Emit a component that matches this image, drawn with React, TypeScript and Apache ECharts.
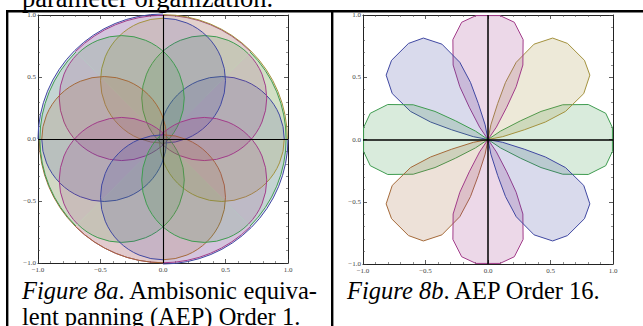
import React, { useEffect, useRef } from 'react';
import * as echarts from 'echarts';

// ---- axis ticks (both panels) ----
const tickValues = [-1, -0.5, 0, 0.5, 1];
const tickLabels = ['\u22121.0', '\u22120.5', '0.0', '0.5', '1.0'];

// ---- Figure 8a (AEP order 1) ----
// eight circles through (nearly) the origin, each drawn as two coloured halves
const innerCenterX = [0.47, 0.33, 0, -0.33, -0.47, -0.33, 0, 0.33];
const innerCenterY = [0, 0.33, 0.47, 0.33, 0, -0.33, -0.47, -0.33];
const innerRadius = [0.5, 0.5, 0.5, 0.5, 0.5, 0.5, 0.5, 0.5];
const innerDirection = [0, 45, 90, 135, 180, 225, 270, 315];
const innerCcwColor = ['blue', 'green', 'ochre', 'magenta', 'blue', 'green', 'brown', 'magenta'];
const innerCwColor = ['ochre', 'magenta', 'blue', 'green', 'brown', 'magenta', 'blue', 'green'];

// outer (near unit) arcs around the origin
const outerCenter = [0, 0];
const outerFrom = [90, 270, 45, 225, 0, 180, -45, 135];
const outerTo = [180, 360, 135, 315, 90, 270, 45, 225];
const outerRadius = [1.0, 1.0, 0.99, 0.99, 0.995, 0.99, 0.985, 0.985];
const outerColor = ['blue', 'blue', 'magenta', 'magenta', 'ochre', 'brown', 'green', 'green'];

// ---- Figure 8b (AEP order 16) ----
const petalOrigin = [0, 0];
const petalDirection = [0, 45, 90, 135, 180, 225, 270, 315];
const petalColor = ['green', 'ochre', 'magenta', 'blue', 'green', 'brown', 'magenta', 'blue'];
const petalOffset = [-40, -34, -30, -28, -25, -19.3, -12.6, -5.5, 5.5, 12.6, 19.3, 25, 28, 30, 34, 40];
const petalRadius = [0, 0.12, 0.3, 0.48, 0.66, 0.85, 0.965, 1.0, 1.0, 0.965, 0.85, 0.66, 0.48, 0.3, 0.12, 0];

const palette: Record<string, string> = {
  blue: '#4048a2',
  magenta: '#a23c8a',
  ochre: '#a4923e',
  green: '#3f9c50',
  brown: '#a56a3a',
};

function rgba(hex: string, a: number) {
  const n = parseInt(hex.slice(1), 16);
  return `rgba(${(n >> 16) & 255},${(n >> 8) & 255},${n & 255},${a})`;
}

const SERIF = '"Liberation Serif", "Times New Roman", serif';
const CAP = 24.5;

function fmt(v: number) {
  for (let i = 0; i < tickValues.length; i++) {
    if (Math.abs(tickValues[i] - v) < 1e-6) return tickLabels[i];
  }
  return '';
}

function makeAxes(gi: number) {
  const common = {
    gridIndex: gi,
    type: 'value',
    min: -1,
    max: 1,
    interval: 0.5,
    splitLine: { show: false },
    axisLine: { show: true, onZero: false, lineStyle: { color: '#222', width: 1 } },
    axisTick: { show: true, inside: true, length: 4, lineStyle: { color: '#333', width: 0.8 } },
    minorTick: { show: true, splitNumber: 5, length: 2, lineStyle: { color: '#444', width: 0.6 } },
  };
  const label = { show: true, formatter: fmt, fontSize: 7, fontFamily: SERIF, color: '#444', margin: 3 };
  return {
    x: [
      { ...common, position: 'bottom', axisLabel: label },
      { ...common, position: 'top', axisLabel: { show: false } },
    ],
    y: [
      { ...common, position: 'left', axisLabel: { ...label, margin: 2 } },
      { ...common, position: 'right', axisLabel: { show: false } },
    ],
  };
}

export default function App() {
  const ref = useRef<HTMLDivElement>(null);
  useEffect(() => {
    if (!ref.current) return;
    const chart = echarts.init(ref.current, undefined, { renderer: 'svg' });
    const a0 = makeAxes(0);
    const a1 = makeAxes(1);

    const outerData = outerFrom.map((f, i) => [outerCenter[0], outerCenter[1], outerRadius[i], f, outerTo[i]]);
    const innerData = innerCenterX.map((x, i) => [x, innerCenterY[i], innerRadius[i], innerDirection[i]]);
    const petalData = petalDirection.map((d) => [petalOrigin[0], petalOrigin[1], d]);

    const axisMark = (w: number) => ({
      silent: true,
      symbol: 'none',
      label: { show: false },
      lineStyle: { color: '#000', width: w, type: 'solid' },
      data: [{ xAxis: 0 }, { yAxis: 0 }],
    });

    const capStyle = (text: string, align: string) => ({
      text,
      fontSize: CAP,
      fontFamily: SERIF,
      fill: '#000',
      verticalAlign: 'middle',
      align,
      rich: { i: { fontStyle: 'italic', fontSize: CAP, fontFamily: SERIF, fill: '#000' } },
    });

    const option: any = {
      animation: false,
      grid: [
        { left: 38, top: 15, width: 250, height: 248 },
        { left: 363, top: 15, width: 250, height: 249 },
      ],
      xAxis: [
        { ...a0.x[0] }, { ...a0.x[1] },
        { ...a1.x[0] }, { ...a1.x[1] },
      ],
      yAxis: [
        { ...a0.y[0] }, { ...a0.y[1] },
        { ...a1.y[0] }, { ...a1.y[1] },
      ],
      series: [
        {
          type: 'custom',
          xAxisIndex: 0,
          yAxisIndex: 0,
          silent: true,
          encode: { x: 0, y: 1 },
          data: outerData,
          renderItem: (params: any, api: any) => {
            const i = params.dataIndex;
            const c = api.coord([api.value(0), api.value(1)]);
            const r = api.size([api.value(2), 0])[0];
            const s = (-api.value(3) * Math.PI) / 180;
            const e = (-api.value(4) * Math.PI) / 180;
            const col = palette[outerColor[i]];
            return {
              type: 'group',
              children: [
                { type: 'sector', shape: { cx: c[0], cy: c[1], r0: 0, r, startAngle: s, endAngle: e, clockwise: false }, style: { fill: rgba(col, 0.17), stroke: 'none' } },
                { type: 'arc', shape: { cx: c[0], cy: c[1], r, startAngle: s, endAngle: e, clockwise: false }, style: { fill: 'none', stroke: col, lineWidth: 1 } },
              ],
            };
          },
        },
        {
          type: 'custom',
          xAxisIndex: 0,
          yAxisIndex: 0,
          silent: true,
          encode: { x: 0, y: 1 },
          data: innerData,
          renderItem: (params: any, api: any) => {
            const i = params.dataIndex;
            const c = api.coord([api.value(0), api.value(1)]);
            const r = api.size([api.value(2), 0])[0];
            const phi = (api.value(3) * Math.PI) / 180;
            const halves = [
              { s: -phi, e: -(phi + Math.PI), col: palette[innerCcwColor[i]] },
              { s: -(phi - Math.PI), e: -phi, col: palette[innerCwColor[i]] },
            ];
            const children: any[] = [];
            halves.forEach((h) => {
              children.push({ type: 'sector', shape: { cx: c[0], cy: c[1], r0: 0, r, startAngle: h.s, endAngle: h.e, clockwise: false }, style: { fill: rgba(h.col, 0.17), stroke: 'none' } });
            });
            halves.forEach((h) => {
              children.push({ type: 'arc', shape: { cx: c[0], cy: c[1], r, startAngle: h.s, endAngle: h.e, clockwise: false }, style: { fill: 'none', stroke: h.col, lineWidth: 1 } });
            });
            return { type: 'group', children };
          },
          markLine: axisMark(1.1),
        },
        {
          type: 'custom',
          xAxisIndex: 2,
          yAxisIndex: 2,
          silent: true,
          encode: { x: 0, y: 1 },
          data: petalData,
          renderItem: (params: any, api: any) => {
            const i = params.dataIndex;
            const dir = api.value(2);
            const pts = petalOffset.map((o, k) => {
              const a = ((dir + o) * Math.PI) / 180;
              return api.coord([petalRadius[k] * Math.cos(a), petalRadius[k] * Math.sin(a)]);
            });
            const col = palette[petalColor[i]];
            return {
              type: 'polygon',
              shape: { points: pts },
              style: { fill: rgba(col, 0.2), stroke: col, lineWidth: 1 },
            };
          },
          markLine: axisMark(1.5),
        },
      ],
      graphic: [
        { type: 'rect', z: 100, shape: { x: 6, y: 10, width: 637, height: 2.5 }, style: { fill: '#000' } },
        { type: 'rect', z: 100, shape: { x: 6, y: 10, width: 2.4, height: 316 }, style: { fill: '#000' } },
        { type: 'rect', z: 100, shape: { x: 331, y: 10, width: 2.4, height: 316 }, style: { fill: '#000' } },
        {
          type: 'text', z: 100, x: 22, y: -2,
          style: { text: 'parameter organization.', fontSize: 26.5, fontFamily: SERIF, fill: '#000', verticalAlign: 'middle', align: 'left' },
        },
        { type: 'text', z: 100, x: 22, y: 290, style: capStyle('{i|Figure 8a}. Ambisonic', 'left') },
        { type: 'text', z: 100, x: 317, y: 290, style: capStyle('equiva-', 'right') },
        { type: 'text', z: 100, x: 22, y: 316, style: capStyle('lent panning (AEP) Order 1.', 'left') },
        { type: 'text', z: 100, x: 347, y: 290, style: capStyle('{i|Figure 8b}. AEP Order 16.', 'left') },
      ],
    };
    chart.setOption(option);
    return () => chart.dispose();
  }, []);
  return (
    <div
      ref={ref}
      style={{ position: 'fixed', left: 0, top: 0, width: 643, height: 326, background: '#fff' }}
    />
  );
}
